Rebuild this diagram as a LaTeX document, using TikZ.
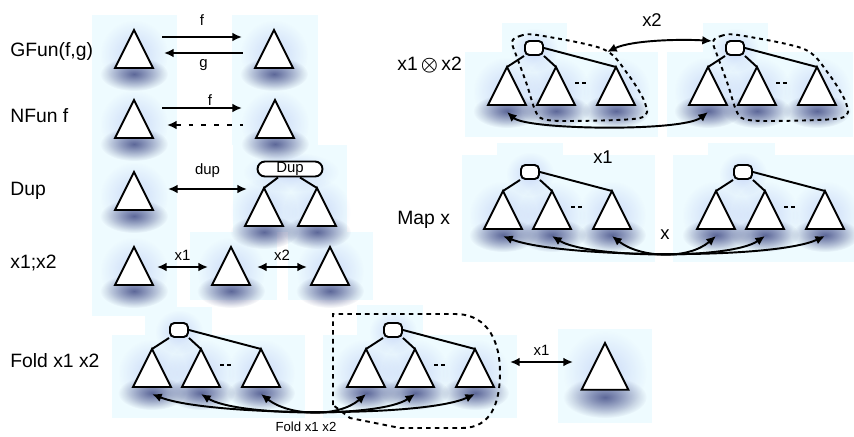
\documentclass[tikz,border=0pt]{standalone}
\usepackage{fontspec}
\setmainfont{Liberation Sans}
\usetikzlibrary{arrows.meta,calc,fadings,shapes.misc}

\tikzfading[name=softglow, inner color=transparent!0, outer color=transparent!100]
\definecolor{panel}{RGB}{238,251,255}
\definecolor{haze}{RGB}{70,80,135}
\definecolor{halo}{RGB}{120,140,230}

\begin{document}
\begin{tikzpicture}[
    x=0.02cm, y=-0.02cm,
    >={Latex[length=5.5pt,width=5pt]},
    glow/.style={fill=haze, opacity=0.85, path fading=softglow},
    aura/.style={fill=halo, opacity=0.3, path fading=softglow},
    trishape/.style={draw=black, fill=white, line width=1.1pt, line join=miter},
    link/.style={line width=1.1pt},
    arrow/.style={<->, line width=1.1pt},
    ring/.style={line width=1.1pt, dash pattern=on 2.2pt off 2.2pt},
    rootbox/.style={draw, fill=white, line width=1.1pt, rounded corners=2.5pt,
        minimum width=0.36cm, minimum height=0.28cm, inner sep=0pt},
    dupbox/.style={rounded rectangle, draw, fill=white, line width=1.1pt,
        minimum width=1.3cm, minimum height=0.3cm, inner sep=0pt,
        font=\fontsize{8.5}{10}\selectfont},
    rowlabel/.style={anchor=west, inner sep=0pt, font=\fontsize{11}{13}\selectfont},
    biglabel/.style={inner sep=0pt, font=\fontsize{10.5}{12}\selectfont},
    tag/.style={inner sep=1pt, font=\fontsize{8.5}{10}\selectfont},
    tri/.pic={
        \fill[aura] (0,24) ellipse (34 and 34);
        \fill[glow] (0,44) ellipse (34 and 17);
        \draw[trishape] (-19,38) -- (0,0) -- (19,38) -- cycle;
        \coordinate (-top) at (0,0);
        \coordinate (-foot) at (0,45);
    },
    tree/.pic={
        \fill[aura] (0,2) ellipse (24 and 22);
        \foreach \x in {-27,22,82} {
            \fill[aura] (\x,43) ellipse (34 and 34);
            \fill[glow] (\x,63) ellipse (34 and 17);
        }
        \foreach \n/\x in {a/-27,b/22,c/82} {
            \draw[trishape] ({\x-19},57) -- (\x,19) -- ({\x+19},57) -- cycle;
            \coordinate (-\n) at (\x,19);
            \coordinate (-\n-foot) at (\x,64);
        }
        \node[rootbox] (-r) at (0,0) {};
        \draw[link] (-r.south west) -- (-a) (-r.south east) -- (-b) (-r.east) -- (-c);
        \draw[link, dash pattern=on 2.3pt off 1.6pt] (41,35) -- (54,35);
    }
]
    \useasboundingbox (0,0) rectangle (854,436);

    % light panels behind the groups
    \foreach \xa/\ya/\xb/\yb in {92/15/177/316, 232/15/318/145, 233/145/347/232,
            190/232/277/300, 288/232/373/300,
            502/23/567/52, 465/52/658/137, 703/23/768/52, 667/52/853/137,
            497/143/563/155, 462/155/655/262, 708/143/775/155, 673/155/854/262,
            145/307/212/335, 112/335/305/418, 357/305/423/335, 323/335/517/418,
            558/329/652/423}
        \fill[panel] (\xa,\ya) rectangle (\xb,\yb);

    % row names
    \node[rowlabel] (lg) at (10,52) {GFun(f,g)};
    \node[rowlabel] (ln) at (10,116) {NFun f};
    \node[rowlabel] (ld) at (10,191) {Dup};
    \node[rowlabel] (ls) at (10,263) {x1;x2};
    \node[rowlabel] (lf) at (10,361) {Fold x1 x2};
    \node[rowlabel] (lx) at (397,65) {x1\,{\boldmath$\otimes$}\,x2};
    \node[rowlabel] (lm) at (397,220) {Map x};

    % GFun and NFun
    \pic (g1) at (134,30) {tri};
    \pic (g2) at (274,30) {tri};
    \pic (n1) at (134,100) {tri};
    \pic (n2) at (275,100) {tri};
    \draw[link,->] ($(g1-top)+(28,7)$) -- node[tag,above=5pt] {f} ($(g2-top)+(-32,7)$);
    \draw[link,<-] ($(g1-top)+(30,23)$) -- node[tag,below=2pt] {g} ($(g2-top)+(-31,23)$);
    \draw[link,->] ($(n1-top)+(28,8)$) -- node[tag,above,pos=0.6] {f} ($(n2-top)+(-33,8)$);
    \draw[link,<-,dash pattern=on 2.8pt off 4.5pt] ($(n1-top)+(33,25)$) -- ($(n2-top)+(-32,25)$);

    % Dup
    \fill[aura] (291,172) ellipse (48 and 20);
    \pic (d0) at (134,172) {tri};
    \pic (dl) at (264,188) {tri};
    \pic (dr) at (317,188) {tri};
    \node[dupbox] (dup) at (290,169) {Dup};
    \draw[link] ([xshift=-0.24cm]dup.south) -- (dl-top) ([xshift=0.2cm]dup.south) -- (dr-top);
    \draw[arrow] ($(d0-top)+(34,17)$) -- node[tag,above=5pt] {dup} ($(dl-top)+(-17,1)$);

    % x1;x2
    \pic (s1) at (134,247) {tri};
    \pic (s2) at (231,247) {tri};
    \pic (s3) at (330,247) {tri};
    \draw[arrow] ($(s1-top)+(23,20)$) -- node[tag,above=2pt] {x1} ($(s2-top)+(-23,20)$);
    \draw[arrow] ($(s2-top)+(26,20)$) -- node[tag,above=2pt] {x2} ($(s3-top)+(-23,20)$);

    % x1 (x) x2
    \pic (xa) at (534,48) {tree};
    \pic (xb) at (735,48) {tree};
    \foreach \t in {xa,xb}
        \draw[ring, shift={(\t-r)}] plot[smooth cycle] coordinates {(-22,-6) (-14,-12) (3,-13)
            (69,1) (93,25) (111,55) (106,70) (36,73) (9,71) (1,62) (-7,37) (-16,12)};
    \draw[arrow] ($(xa-r)+(73,4)$) .. controls +(25,-12) and +(-30,-2) .. ($(xb-r)+(-23,-7)$);
    \draw[arrow] (xa-a-foot) .. controls +(20,18) and +(-25,20) .. (xb-a-foot);
    \node[biglabel] (lx2) at (652,20) {x2};

    % Map x
    \pic (ma) at (530,172) {tree};
    \pic (mb) at (743,172) {tree};
    \node[biglabel] (lx1) at (603,157) {x1};
    \node[biglabel] (lmx) at (665,235) {x};
    \foreach \p/\q/\c/\d in {a/c/55/52, b/b/35/35, c/a/28/28}
        \draw[arrow] (ma-\p-foot) .. controls +(\c,22) and +(-\d,24) .. (mb-\q-foot);

    % Fold x1 x2
    \pic (fa) at (179,330) {tree};
    \pic (fb) at (393,330) {tree};
    \foreach \p/\q/\c/\d in {a/c/55/52, b/b/35/35, c/a/28/28}
        \draw[arrow] (fa-\p-foot) .. controls +(\c,22) and +(-\d,24) .. (fb-\q-foot);
    \draw[line width=1.1pt, dash pattern=on 2.6pt off 2.4pt] (333,405) -- (333,314) -- (455,314)
        .. controls (490,314) and (500,345) .. (500,372)
        .. controls (500,405) and (490,428) .. (462,428) -- (400,428) -- (350,418) -- cycle;
    \node[font=\fontsize{7.5}{9}\selectfont, inner sep=0pt] (lfold) at (306,427) {Fold x1 x2};
    \pic[scale=1.23] (z) at (605,343) {tri};
    \draw[arrow] ($(z-top)+(-95,19)$) -- node[tag,above=2pt] {x1} ($(z-top)+(-32,19)$);
\end{tikzpicture}
\end{document}
